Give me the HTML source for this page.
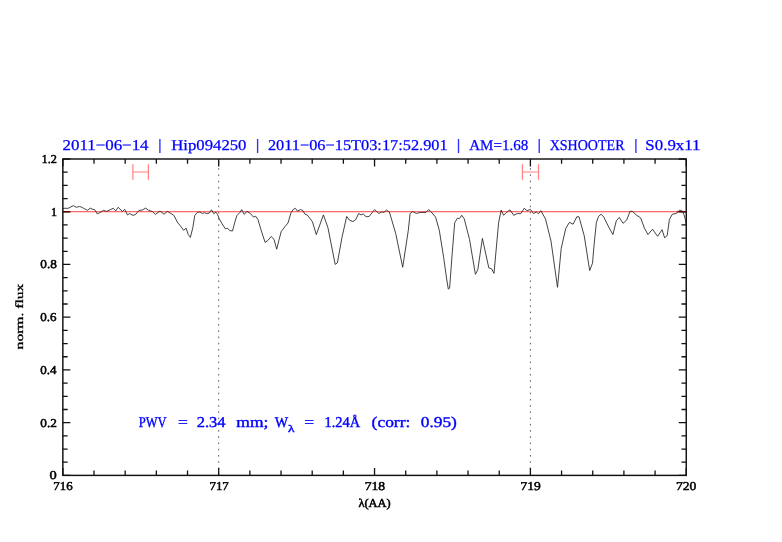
<!DOCTYPE html>
<html><head><meta charset="utf-8">
<style>
html,body{margin:0;padding:0;background:#fff;width:782px;height:542px;overflow:hidden}
svg{display:block}
text{text-rendering:geometricPrecision}
.tl{font-family:"Liberation Serif",serif;font-size:12px;fill:#000;stroke:#000;stroke-width:0.5px}
.ti{font-family:"Liberation Serif",serif;font-size:15px;fill:#0000ff;stroke:#0000ff;stroke-width:0.25px}
.pw{font-family:"Liberation Serif",serif;font-size:15px;fill:#0000ff;stroke:#0000ff;stroke-width:0.4px}

</style></head><body>
<svg style="will-change:transform" width="782" height="542" viewBox="0 0 782 542">
<rect width="782" height="542" fill="#fff"/>
<g stroke="#555" stroke-width="0.95" fill="none" stroke-dasharray="1.6 4.635" stroke-dashoffset="3.27">
<path d="M218.70,159.0V475.4M530.40,159.0V475.4"/>
</g>
<path d="M62.85,211.73H686.25" stroke="#ff4040" stroke-width="1" fill="none"/>
<g stroke="#ff8080" stroke-width="1.2" fill="none">
<path d="M132.9,164.2V179.8M148.4,164.2V179.8M132.9,172H148.4"/>
<path d="M522.4,164.2V179.8M538.5,164.2V179.8M522.4,172H538.5"/>
</g>
<path d="M62.8,208.5 L64.1,208.3 L68.2,208.3 L73.3,205.7 L76.4,207.3 L79.4,206.5 L81.5,207.1 L84.6,208.8 L87.6,210.3 L90.2,208.1 L92.7,209.3 L94.8,209.8 L97.3,213.9 L99.9,212.6 L103.5,210.3 L106.5,211.4 L110.1,209.8 L113.2,208.3 L115.8,210.8 L118.1,207.3 L122.4,211.4 L124.7,209.3 L127.5,215.0 L129.6,213.6 L133.1,215.4 L135.7,214.4 L139.1,210.3 L142.1,210.1 L145.7,208.1 L148.3,210.1 L152.4,211.6 L155.4,214.4 L160.0,211.1 L164.1,214.2 L167.2,211.4 L170.8,213.4 L173.9,215.4 L177.9,223.1 L180.0,225.2 L183.6,230.3 L186.1,228.2 L188.2,234.4 L190.4,237.4 L192.8,227.7 L194.8,215.4 L197.4,212.4 L199.9,211.9 L202.5,213.6 L204.5,212.6 L206.6,213.6 L209.1,213.2 L211.5,209.8 L213.7,213.6 L215.9,212.2 L217.5,214.4 L219.2,218.8 L222.0,223.6 L225.3,228.8 L227.5,228.2 L229.7,230.6 L232.5,231.0 L234.7,222.7 L236.9,215.5 L239.7,212.7 L241.7,209.6 L244.3,214.4 L246.9,211.4 L250.2,213.3 L253.5,217.1 L255.7,216.3 L257.9,219.4 L261.2,230.4 L265.1,242.4 L267.9,240.4 L271.2,236.5 L274.0,239.3 L276.7,249.2 L278.9,240.4 L281.2,231.5 L285.0,226.6 L288.0,223.0 L291.0,212.7 L293.2,209.5 L295.4,208.3 L297.6,211.2 L300.5,209.5 L302.8,210.5 L305.0,214.2 L307.2,214.9 L312.4,221.6 L316.3,234.6 L323.4,214.9 L327.9,227.5 L335.2,264.4 L337.4,262.9 L341.9,237.8 L346.7,216.4 L349.3,220.1 L352.9,221.6 L355.9,219.4 L358.6,213.5 L361.1,214.9 L363.3,213.9 L365.5,216.4 L367.0,216.8 L369.2,216.4 L372.1,212.7 L374.6,209.5 L378.8,213.5 L381.7,212.0 L383.9,212.4 L386.4,210.1 L389.4,212.0 L395.7,233.4 L402.7,267.3 L408.3,230.4 L410.1,213.5 L412.7,211.5 L416.4,213.5 L420.1,212.4 L426.0,212.4 L428.6,209.5 L431.2,212.0 L435.6,217.1 L439.3,230.4 L443.7,257.7 L446.5,278.0 L448.3,289.1 L449.6,288.2 L452.0,255.9 L454.7,222.7 L457.5,218.1 L459.4,218.6 L461.8,215.3 L464.3,219.0 L469.5,239.3 L475.4,274.3 L477.8,269.7 L482.4,238.4 L488.8,267.9 L491.6,268.8 L494.0,273.4 L498.6,222.7 L501.2,210.1 L503.6,215.3 L506.4,212.5 L510.0,209.8 L513.7,215.3 L517.4,213.5 L520.6,213.8 L524.3,208.3 L527.1,210.7 L530.4,209.4 L533.5,213.5 L536.3,212.0 L538.5,213.8 L540.9,210.7 L545.5,219.0 L551.0,241.1 L557.5,287.3 L561.2,248.5 L565.8,228.2 L569.5,222.3 L573.1,224.2 L576.8,216.8 L579.0,216.8 L584.2,235.6 L589.7,270.6 L592.5,263.2 L594.2,243.7 L596.4,222.3 L598.6,216.4 L601.1,214.2 L603.8,217.1 L608.2,226.0 L612.9,234.6 L616.3,220.8 L619.3,217.4 L623.0,223.3 L626.7,220.1 L630.1,211.2 L632.6,211.5 L636.2,214.9 L640.7,217.9 L644.4,228.2 L648.0,234.6 L652.5,229.2 L657.6,236.3 L662.1,229.7 L664.6,237.8 L667.2,235.6 L669.4,219.4 L672.4,214.2 L676.1,213.5 L679.8,210.1 L682.4,211.0 L684.0,214.8 L685.4,219.5 L686.2,224.5" stroke="#222" stroke-width="0.85" fill="none" stroke-linejoin="round"/>
<rect x="62.85" y="159.0" width="623.4" height="316.4" stroke="#111" stroke-width="1.45" fill="none"/>
<path d="M62.85,475.4V467.90M62.85,159.0V166.50M94.02,475.4V470.60M94.02,159.0V163.80M125.19,475.4V470.60M125.19,159.0V163.80M156.36,475.4V470.60M156.36,159.0V163.80M187.53,475.4V470.60M187.53,159.0V163.80M218.70,475.4V467.90M218.70,159.0V166.50M249.87,475.4V470.60M249.87,159.0V163.80M281.04,475.4V470.60M281.04,159.0V163.80M312.21,475.4V470.60M312.21,159.0V163.80M343.38,475.4V470.60M343.38,159.0V163.80M374.55,475.4V467.90M374.55,159.0V166.50M405.72,475.4V470.60M405.72,159.0V163.80M436.89,475.4V470.60M436.89,159.0V163.80M468.06,475.4V470.60M468.06,159.0V163.80M499.23,475.4V470.60M499.23,159.0V163.80M530.40,475.4V467.90M530.40,159.0V166.50M561.57,475.4V470.60M561.57,159.0V163.80M592.74,475.4V470.60M592.74,159.0V163.80M623.91,475.4V470.60M623.91,159.0V163.80M655.08,475.4V470.60M655.08,159.0V163.80M686.25,475.4V467.90M686.25,159.0V166.50M62.85,475.40H70.35M686.25,475.40H678.75M62.85,462.22H67.65M686.25,462.22H681.45M62.85,449.03H67.65M686.25,449.03H681.45M62.85,435.85H67.65M686.25,435.85H681.45M62.85,422.67H70.35M686.25,422.67H678.75M62.85,409.48H67.65M686.25,409.48H681.45M62.85,396.30H67.65M686.25,396.30H681.45M62.85,383.12H67.65M686.25,383.12H681.45M62.85,369.93H70.35M686.25,369.93H678.75M62.85,356.75H67.65M686.25,356.75H681.45M62.85,343.57H67.65M686.25,343.57H681.45M62.85,330.38H67.65M686.25,330.38H681.45M62.85,317.20H70.35M686.25,317.20H678.75M62.85,304.02H67.65M686.25,304.02H681.45M62.85,290.83H67.65M686.25,290.83H681.45M62.85,277.65H67.65M686.25,277.65H681.45M62.85,264.47H70.35M686.25,264.47H678.75M62.85,251.28H67.65M686.25,251.28H681.45M62.85,238.10H67.65M686.25,238.10H681.45M62.85,224.92H67.65M686.25,224.92H681.45M62.85,211.73H70.35M686.25,211.73H678.75M62.85,198.55H67.65M686.25,198.55H681.45M62.85,185.37H67.65M686.25,185.37H681.45M62.85,172.18H67.65M686.25,172.18H681.45M62.85,159.00H70.35M686.25,159.00H678.75" stroke="#111" stroke-width="1.3" fill="none"/>
<text x="62.54" y="150.30" textLength="86.00" lengthAdjust="spacingAndGlyphs" class="ti">2011−06−14</text>
<text x="171.22" y="150.30" textLength="75.24" lengthAdjust="spacingAndGlyphs" class="ti">Hip094250</text>
<text x="267.96" y="150.30" textLength="179.70" lengthAdjust="spacingAndGlyphs" class="ti">2011−06−15T03:17:52.901</text>
<text x="469.20" y="150.30" textLength="59.09" lengthAdjust="spacingAndGlyphs" class="ti">AM=1.68</text>
<text x="549.67" y="150.30" textLength="74.85" lengthAdjust="spacingAndGlyphs" class="ti">XSHOOTER</text>
<text x="645.38" y="150.30" textLength="55.12" lengthAdjust="spacingAndGlyphs" class="ti">S0.9x11</text>
<text x="138.79" y="427.20" textLength="27.88" lengthAdjust="spacingAndGlyphs" class="pw">PWV</text>
<text x="178.12" y="427.20" textLength="9.82" lengthAdjust="spacingAndGlyphs" class="pw">=</text>
<text x="196.65" y="427.20" textLength="28.85" lengthAdjust="spacingAndGlyphs" class="pw">2.34</text>
<text x="236.30" y="427.20" textLength="32.08" lengthAdjust="spacingAndGlyphs" class="pw">mm;</text>
<text x="274.64" y="427.20" textLength="13.39" lengthAdjust="spacingAndGlyphs" class="pw">W</text>
<text x="304.22" y="427.20" textLength="9.82" lengthAdjust="spacingAndGlyphs" class="pw">=</text>
<text x="324.44" y="427.20" textLength="35.61" lengthAdjust="spacingAndGlyphs" class="pw">1.24Å</text>
<text x="371.62" y="427.20" textLength="38.72" lengthAdjust="spacingAndGlyphs" class="pw">(corr:</text>
<text x="420.81" y="427.20" textLength="36.07" lengthAdjust="spacingAndGlyphs" class="pw">0.95)</text>
<text x="53.26" y="490.30" textLength="19.34" lengthAdjust="spacingAndGlyphs" class="tl">716</text>
<text x="209.46" y="490.30" textLength="19.34" lengthAdjust="spacingAndGlyphs" class="tl">717</text>
<text x="364.73" y="490.30" textLength="20.45" lengthAdjust="spacingAndGlyphs" class="tl">718</text>
<text x="520.64" y="490.30" textLength="20.24" lengthAdjust="spacingAndGlyphs" class="tl">719</text>
<text x="675.93" y="490.30" textLength="20.35" lengthAdjust="spacingAndGlyphs" class="tl">720</text>
<text x="358.40" y="507.00" textLength="32.36" lengthAdjust="spacingAndGlyphs" class="tl">λ(AA)</text>
<text x="49.60" y="479.30" textLength="7.20" lengthAdjust="spacingAndGlyphs" class="tl">0</text>
<text x="40.32" y="426.50" textLength="16.55" lengthAdjust="spacingAndGlyphs" class="tl">0.2</text>
<text x="40.33" y="373.80" textLength="16.27" lengthAdjust="spacingAndGlyphs" class="tl">0.4</text>
<text x="40.33" y="321.00" textLength="16.27" lengthAdjust="spacingAndGlyphs" class="tl">0.6</text>
<text x="40.32" y="268.20" textLength="16.55" lengthAdjust="spacingAndGlyphs" class="tl">0.8</text>
<text x="51.04" y="215.60" textLength="6.06" lengthAdjust="spacingAndGlyphs" class="tl">1</text>
<text x="41.53" y="162.90" textLength="15.32" lengthAdjust="spacingAndGlyphs" class="tl">1.2</text>
<path d="M159.9,139V153M257.6,139V153M458.5,139V153M539.2,139V153M635.9,139V153" stroke="#3030ff" stroke-width="1.35" fill="none"/>
<text x="288.1" y="431.7" textLength="6.5" lengthAdjust="spacingAndGlyphs" class="pw" style="font-size:10px">λ</text>
<text transform="translate(23.4,349.4) rotate(-90)" textLength="65.7" lengthAdjust="spacingAndGlyphs" class="tl" style="font-size:11px;stroke-width:0.3px">norm. flux</text>
<path d="M62.85,211.73H70.15M686.25,211.73H676.75" stroke="#7a0000" stroke-width="1.15" fill="none"/>
</svg>
</body></html>
